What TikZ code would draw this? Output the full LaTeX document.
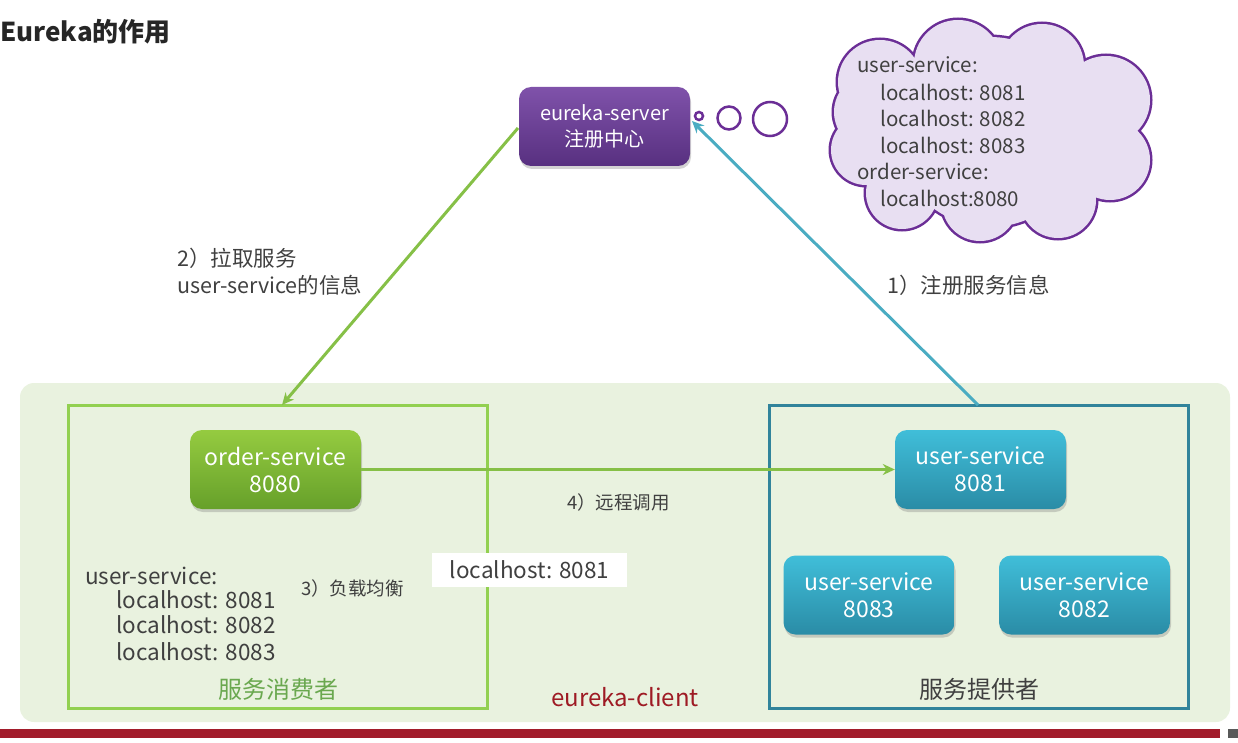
\documentclass[tikz,border=0pt]{standalone}
\usepackage{fontspec}
\setmainfont{Noto Sans CJK SC}
\usetikzlibrary{shadows,arrows.meta}
\definecolor{bggreen}{HTML}{E9F2DF}
\definecolor{consgreen}{HTML}{92D050}
\definecolor{provteal}{HTML}{31849B}
\definecolor{ordtop}{HTML}{95CB40}
\definecolor{ordbot}{HTML}{66A02A}
\definecolor{usertop}{HTML}{40BED9}
\definecolor{userbot}{HTML}{2A8CA6}
\definecolor{eutop}{HTML}{7F52AA}
\definecolor{eubot}{HTML}{583080}
\definecolor{cloudfill}{HTML}{E8DFF2}
\definecolor{cloudline}{HTML}{6B2E96}
\definecolor{txt}{HTML}{404040}
\definecolor{redbar}{HTML}{A21C2B}
\definecolor{clientred}{HTML}{9E1B24}
\definecolor{arrgreen}{HTML}{86C047}
\definecolor{arrteal}{HTML}{4AACC2}
\definecolor{greentxt}{HTML}{6AA84F}
\begin{document}
\begin{tikzpicture}[x=1pt,y=-1pt,
  svc/.style={rounded corners=12pt, minimum width=171pt, minimum height=79pt,
    align=center, text=white, font=\fontsize{23}{27}\selectfont,
    drop shadow={opacity=0.35, shadow xshift=1pt, shadow yshift=-3pt}},
  ordsvc/.style={svc, top color=ordtop, bottom color=ordbot},
  usersvc/.style={svc, top color=usertop, bottom color=userbot},
  eusvc/.style={svc, top color=eutop, bottom color=eubot, font=\fontsize{20}{26}\selectfont},
  lbl/.style={text=txt, inner sep=0pt, anchor=west},
  cloudtxt/.style={font=\fontsize{20.5}{24}\selectfont},
  big/.style={font=\fontsize{22.5}{26}\selectfont},
  mid/.style={font=\fontsize{21.5}{26}\selectfont},
  small/.style={font=\fontsize{18.5}{22}\selectfont},
  caption/.style={font=\fontsize{24}{28}\selectfont, inner sep=0pt},
  arr/.style={line width=3pt, -{Stealth[length=12pt,width=11pt]}},
  bubble/.style={draw=cloudline, line width=2.5pt, fill=white}
]
\useasboundingbox (0,0) rectangle (1238,743);

% title
\node[anchor=west, inner sep=0pt, font=\fontsize{26}{30}\selectfont\bfseries, text=black!85] (title) at (0,32) {Eureka的作用};

% background region
\node[fill=bggreen, rounded corners=14pt, minimum width=1210pt, minimum height=339pt, inner sep=0pt] (client) at (625,552.5) {};

% boxes
\node[draw=consgreen, line width=3pt, minimum width=419pt, minimum height=303pt, inner sep=0pt] (cons) at (277.5,556.5) {};
\node[draw=provteal, line width=3pt, minimum width=419pt, minimum height=303pt, inner sep=0pt] (prov) at (978.5,556.5) {};

% service nodes
\node[ordsvc] (order) at (275.5,469.5) {order-service\\8080};
\node[usersvc] (u8081) at (980.5,469.5) {user-service\\8081};
\node[usersvc] (u8083) at (869,595) {user-service\\8083};
\node[usersvc] (u8082) at (1084.5,595) {user-service\\8082};
\node[eusvc] (eureka) at (604.5,126.5) {eureka-server\\注册中心};

% cloud (union of puffs)
\def\puffs{(880,82) circle[radius=42] (958,64) circle[radius=44] (1042,66) circle[radius=42]
  (1106,100) circle[radius=44] (1110,160) circle[radius=40] (1058,200) circle[radius=38]
  (980,203) circle[radius=38] (902,193) circle[radius=36] (866,150) circle[radius=35]
  (872,112) circle[radius=38] (990,132) circle[radius=95]}
\draw[cloudline, line width=5pt] \puffs;
\fill[cloudfill] \puffs;

\node[bubble, circle, minimum size=8pt, inner sep=0pt] (b1) at (699,116) {};
\node[bubble, circle, minimum size=23pt, inner sep=0pt] (b2) at (729,118) {};
\node[bubble, circle, minimum size=34pt, inner sep=0pt] (b3) at (770,119) {};

\node[lbl, cloudtxt] (c1) at (857,65) {user-service:};
\node[lbl, cloudtxt] (c2) at (880,92) {localhost: 8081};
\node[lbl, cloudtxt] (c3) at (880,118) {localhost: 8082};
\node[lbl, cloudtxt] (c4) at (880,145) {localhost: 8083};
\node[lbl, cloudtxt] (c5) at (857,171) {order-service:};
\node[lbl, cloudtxt] (c6) at (880,198) {localhost:8080};

% connectors
\coordinate (gstart) at (518,128);
\coordinate (gend) at (282,405);
\coordinate (tstart) at (978,405);
\coordinate (tend) at (692,121);
\draw[arr, arrgreen] (gstart) -- (gend);
\draw[arr, arrteal] (tstart) -- (tend);
\draw[arr, arrgreen] (order.east) -- (u8081.west);

% labels
\node[lbl, mid] (l2a) at (177,258) {2）拉取服务};
\node[lbl, mid] (l2b) at (177,285) {user-service的信息};
\node[lbl, mid] (l1) at (887,285) {1）注册服务信息};
\node[lbl, small] (l4) at (567,502) {4）远程调用};
\node[lbl, small] (l3) at (301,588) {3）负载均衡};

\node[fill=white, minimum width=195pt, minimum height=34pt, inner sep=0pt, text=txt, big] (pick) at (529.5,570) {localhost: 8081};

\node[lbl, big] (k1) at (85,576) {user-service:};
\node[lbl, big] (k2) at (116,600) {localhost: 8081};
\node[lbl, big] (k3) at (116,625) {localhost: 8082};
\node[lbl, big] (k4) at (116,652) {localhost: 8083};

\node[text=greentxt, caption] (consname) at (278,689) {服务消费者};
\node[text=txt, caption] (provname) at (979,689) {服务提供者};
\node[text=clientred, caption] (clientname) at (625,697) {eureka-client};

% bottom bar
\fill[redbar] (0,729) rectangle (1220,738);
\fill[black!65] (1228,729) rectangle (1238,738);
\end{tikzpicture}
\end{document}
